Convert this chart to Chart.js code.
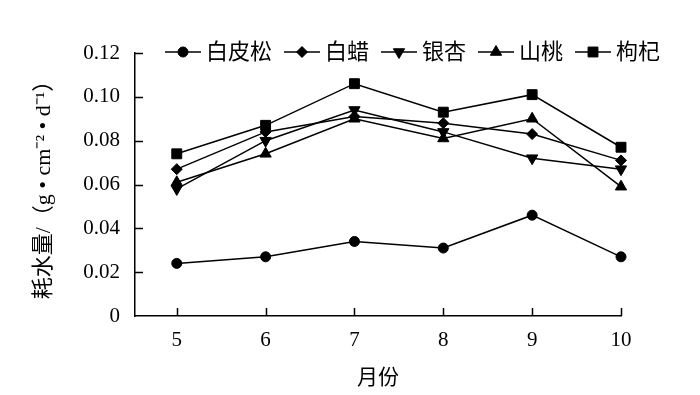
<!DOCTYPE html>
<html>
<head>
<meta charset="utf-8">
<script src="https://cdn.jsdelivr.net/npm/chart.js@4/dist/chart.umd.min.js"></script>
<style>
  html, body { margin: 0; padding: 0; background: #fff; }
  canvas { display: block; }
</style>
</head>
<body>
<canvas id="chart" width="700" height="395"></canvas>
<script>
// 月份
const months = [5, 6, 7, 8, 9, 10];
const yTicks = [0, 0.02, 0.04, 0.06, 0.08, 0.10, 0.12];

// 耗水量 (g·cm-2·d-1)
const baipisong = [0.024, 0.027, 0.034, 0.031, 0.046, 0.027];
const baila = [0.067, 0.084, 0.091, 0.088, 0.083, 0.071];
const yinxing = [0.058, 0.080, 0.094, 0.084, 0.072, 0.067];
const shantao = [0.061, 0.074, 0.090, 0.081, 0.090, 0.059];
const gouqi = [0.074, 0.087, 0.106, 0.093, 0.101, 0.077];

const seriesNames = ["白皮松", "白蜡", "银杏", "山桃", "枸杞"];
const seriesValues = [baipisong, baila, yinxing, shantao, gouqi];

const FONT = '"Liberation Serif", "Times New Roman", "Noto Sans CJK SC", serif';

// marker look per series
const markers = [
  { pointStyle: "circle", radius: 5, rotation: 0 },
  { pointStyle: "rectRot", radius: 5.5, rotation: 0 },
  { pointStyle: "triangle", radius: 6.5, rotation: 180 },
  { pointStyle: "triangle", radius: 6.5, rotation: 0 },
  { pointStyle: "rect", radius: 7, rotation: 0 },
];

const toPoints = (vals) => months.map((m, i) => ({ x: m, y: vals[i] }));

const datasets = seriesNames.map((name, i) => ({
  label: name,
  data: toPoints(seriesValues[i]),
  borderColor: "#000",
  backgroundColor: "#000",
  borderWidth: 1.5,
  pointStyle: markers[i].pointStyle,
  pointRadius: markers[i].radius,
  pointRotation: markers[i].rotation,
  pointBackgroundColor: "#000",
  pointBorderColor: "#000",
  pointBorderWidth: 1,
  tension: 0,
  clip: false,
}));

// ticks pointing into the plot, like the original figure
const inwardTicks = {
  id: "inwardTicks",
  afterDatasetsDraw(chart, args, opts) {
    const { ctx, chartArea, scales: { x, y } } = chart;
    ctx.save();
    ctx.strokeStyle = "#000";
    ctx.lineWidth = 1.5;
    ctx.beginPath();
    y.ticks.forEach((t) => {
      if (t.value === 0) return;
      const py = Math.round(y.getPixelForValue(t.value)) + 0.5;
      ctx.moveTo(chartArea.left, py);
      ctx.lineTo(chartArea.left + opts.length, py);
    });
    x.ticks.forEach((t) => {
      const px = Math.round(x.getPixelForValue(t.value)) + 0.5;
      ctx.moveTo(px, chartArea.bottom);
      ctx.lineTo(px, chartArea.bottom - opts.length);
    });
    ctx.stroke();
    ctx.restore();
  },
};

// legend drawn as "—●—name" on one row
const lineLegend = {
  id: "lineLegend",
  afterDraw(chart, args, opts) {
    const { ctx } = chart;
    ctx.save();
    ctx.font = opts.fontSize + "px " + FONT;
    ctx.textBaseline = "middle";
    ctx.fillStyle = "#000";
    ctx.strokeStyle = "#000";
    let x = opts.x;
    const y = opts.y;
    chart.data.datasets.forEach((ds) => {
      ctx.lineWidth = 1.5;
      ctx.beginPath();
      ctx.moveTo(x, y);
      ctx.lineTo(x + opts.lineWidth, y);
      ctx.stroke();
      ctx.lineWidth = 1;
      Chart.helpers.drawPoint(ctx, {
        pointStyle: ds.pointStyle,
        radius: ds.pointRadius,
        rotation: ds.pointRotation,
        borderWidth: 1,
      }, x + opts.lineWidth / 2, y);
      x += opts.lineWidth + opts.textGap;
      ctx.fillText(ds.label, x, y + 1);
      x += ctx.measureText(ds.label).width + opts.itemGap;
    });
    ctx.restore();
  },
};

Chart.defaults.color = "#000";

new Chart(document.getElementById("chart"), {
  type: "line",
  data: { datasets: datasets },
  options: {
    responsive: false,
    devicePixelRatio: 1,
    animation: false,
    layout: {
      padding: { top: 53, right: 79, bottom: 0, left: 0 },
    },
    scales: {
      x: {
        type: "linear",
        min: 4.53,
        max: 10,
        afterBuildTicks: (scale) => {
          scale.ticks = months.map((m) => ({ value: m }));
        },
        afterFit: (scale) => {
          scale.height = 79;
        },
        grid: { display: false, drawTicks: false },
        border: { display: true, color: "#000", width: 1.5 },
        ticks: {
          padding: 12,
          maxRotation: 0,
          font: { size: 21, family: FONT },
          callback: (v) => String(v),
        },
        title: {
          display: true,
          text: "月份",
          font: { size: 21, family: FONT, lineHeight: 1 },
          padding: { top: 0, bottom: 6 },
        },
      },
      y: {
        min: 0,
        max: 0.12,
        afterBuildTicks: (scale) => {
          scale.ticks = yTicks.map((v) => ({ value: v }));
        },
        afterFit: (scale) => {
          scale.width = 135;
        },
        grid: { display: false, drawTicks: false },
        border: { display: true, color: "#000", width: 1.5 },
        ticks: {
          padding: 15,
          font: { size: 21, family: FONT },
          callback: (v) => (v === 0 ? "0" : v.toFixed(2)),
        },
        title: {
          display: true,
          text: "耗水量/（g • cm⁻² • d⁻¹）",
          font: { size: 22, family: FONT, lineHeight: 1 },
          padding: { top: 33, bottom: 0 },
        },
      },
    },
    plugins: {
      legend: { display: false },
      tooltip: { enabled: false },
      inwardTicks: { length: 8 },
      lineLegend: {
        x: 165,
        y: 52,
        fontSize: 22,
        lineWidth: 36,
        textGap: 5,
        itemGap: 12,
      },
    },
  },
  plugins: [inwardTicks, lineLegend],
});
</script>
</body>
</html>
